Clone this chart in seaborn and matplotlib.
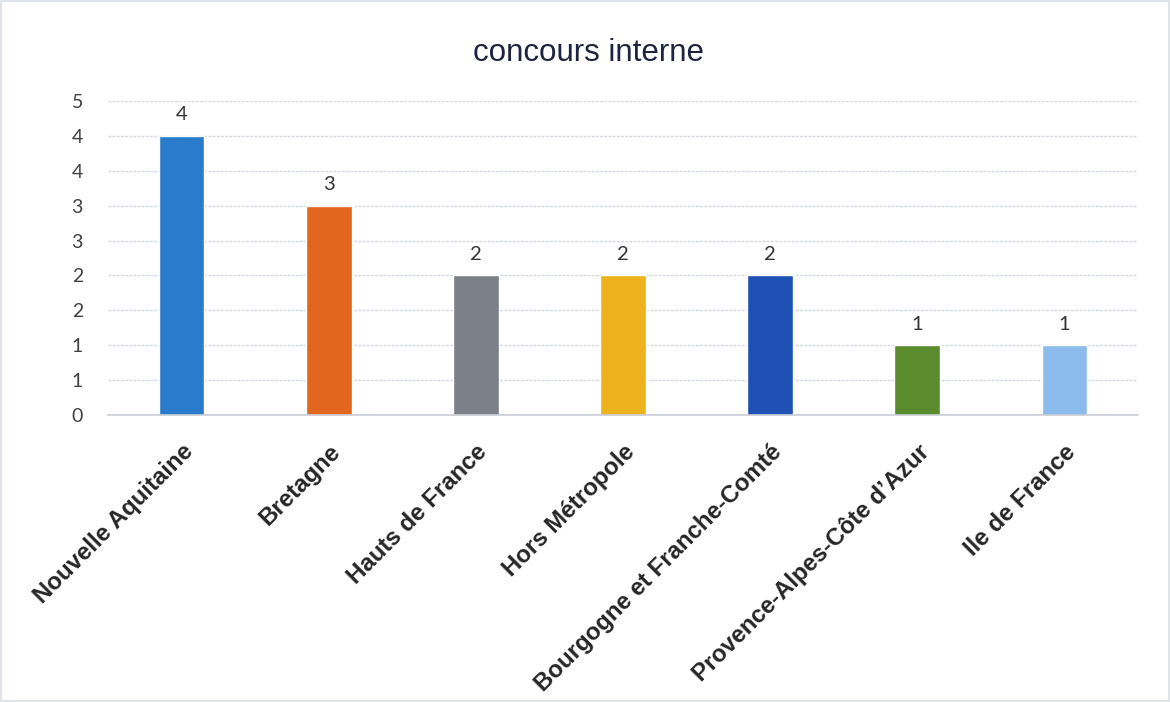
import matplotlib
matplotlib.use("Agg")
import matplotlib.pyplot as plt
import seaborn as sns
import numpy as np
import pandas as pd
from matplotlib.ticker import FixedLocator, FuncFormatter

# data
regions = ["Nouvelle Aquitaine", "Bretagne", "Hauts de France", "Hors Métropole",
           "Bourgogne et Franche-Comté", "Provence-Alpes-Côte d\u2019Azur", "Ile de France"]
counts = [4, 3, 2, 2, 2, 1, 1]
bar_colors = ["#2A7BCC", "#E2661E", "#7C8088", "#EEB21C", "#1F50B4", "#5A8C2E", "#8CBCEE"]
title = "concours interne"

df = pd.DataFrame({"region": regions, "n": counts})

sns.set_style("white")
plt.rcParams["font.family"] = ["Liberation Sans", "DejaVu Sans"]

fig = plt.figure(figsize=(11.7, 7.02), dpi=100)
fig.patch.set_edgecolor("#dfe3ea")
fig.patch.set_linewidth(1.5)
ax = fig.add_axes([0.0923, 0.4088, 0.8803, 0.4473])

sns.barplot(data=df, x="region", y="n", hue="region", palette=bar_colors,
            width=0.31, legend=False, ax=ax, saturation=1)

ax.set_ylim(0, 4.5)
ax.set_xlim(-0.5, len(regions) - 0.5)
yt = np.arange(0, 4.51, 0.5)
ax.yaxis.set_major_locator(FixedLocator(yt))
ax.yaxis.set_major_formatter(FuncFormatter(lambda v, p: str(int(np.floor(v + 0.5)))))
ax.grid(axis="y", color="#d3d7df", linewidth=1, linestyle=(0, (2, 1)))
ax.set_axisbelow(True)
for s in ["top", "right", "left"]:
    ax.spines[s].set_visible(False)
ax.spines["bottom"].set_color("#c8ccd4")
ax.spines["bottom"].set_linewidth(1.2)

ax.tick_params(axis="y", length=0, pad=18, labelsize=14, labelcolor="#404040")
for lab in ax.get_yticklabels():
    lab.set_family(["Lato", "DejaVu Sans"])

ax.set_xticks(range(len(regions)))
ax.set_xticklabels(regions, rotation=45, ha="right", rotation_mode="anchor",
                   fontsize=17.3, fontweight="bold", color="#262626")
ax.xaxis.set_minor_locator(FixedLocator(np.arange(-0.5, len(regions), 1)))
ax.tick_params(axis="x", which="major", length=0, pad=18)
ax.tick_params(axis="x", which="minor", length=6, color="#c8ccd4", width=1.2)

for c in ax.containers:
    ax.bar_label(c, padding=9, fontsize=14.5, color="#333333", family=["Lato", "DejaVu Sans"])

ax.set_xlabel("")
ax.set_ylabel("")
fig.text(0.503, 0.925, title, ha="center", va="center", fontsize=22.5, color="#1E2440")

fig.savefig("out.png", dpi=100)
